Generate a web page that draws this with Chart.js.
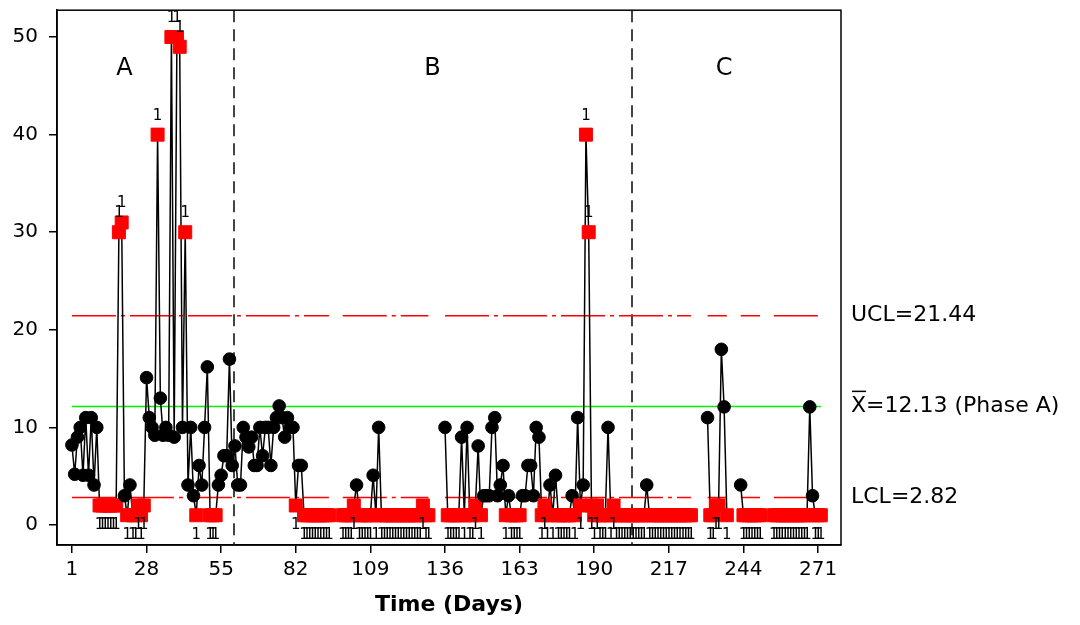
<!DOCTYPE html>
<html>
<head>
<meta charset="utf-8">
<script src="https://cdn.jsdelivr.net/npm/chart.js@4/dist/chart.umd.min.js"></script>
<style>
  html, body { margin: 0; padding: 0; background: #fff; }
</style>
</head>
<body>
<canvas id="chart" width="1080" height="625"></canvas>
<script>
// daily values, null = missing day
const values = [
  8.2, 5.2, 9, 10, 5.1, 11, 5.1, 11, 4.1, 10,
  2, 2, 2, 2, 2, 2, 2, 30, 31, 3,
  1, 4.1, 1, 1, 2, 1, 2, 15.1, 11, 10,
  9.2, 40, 13, 9.2, 10, 9.2, 50, 9, 50, 49,
  10, 30, 4.1, 10, 3, 1, 6.1, 4.1, 10, 16.2,
  1, 1, 1, 4.1, 5.1, 7.1, 7.1, 17, 6.1, 8.1,
  4.1, 4.1, 10, 9, 8, 9, 6.1, 6.1, 10, 7.1,
  10, 10, 6.1, 10, 11, 12.2, 11, 9, 11, 10,
  10, 2, 6.1, 6.1, 1, 1, 1, 1, 1, 1,
  1, 1, 1, 1, null, null, null, null, 1, 1,
  1, 1, 2, 4.1, 1, 1, 1, 1, 1, 5.1,
  1, 10, 1, 1, 1, 1, 1, 1, 1, 1,
  1, 1, 1, 1, 1, 1, 1, 2, 1, 1,
  null, null, null, null, null, 10, 1, 1, 1, 1,
  1, 9, 1, 10, 1, 1, 2, 8.1, 1, 3,
  3, 3, 10, 11, 3, 4.1, 6.1, 1, 3, 1,
  1, 1, 1, 3, 3, 6.1, 6.1, 3, 10, 9,
  1, 2, 1, 4.1, 1, 5.1, 1, 1, 1, 1,
  1, 3, 1, 11, 2, 4.1, 40, 30, 2, 1,
  2, 1, 1, 1, 10, 1, 2, 1, 1, 1,
  1, 1, 1, 1, 1, 1, 1, 1, 4.1, 1,
  1, 1, 1, 1, 1, 1, 1, 1, 1, 1,
  1, 1, 1, 1, 1, null, null, null, null, null,
  11, 1, 1, 2, 2, 18, 12.1, 1, null, null,
  null, null, 4.1, 1, 1, 1, 1, 1, 1, 1,
  null, null, null, null, 1, 1, 1, 1, 1, 1,
  1, 1, 1, 1, 1, 1, 1, 12.1, 3, 1,
  1, 1
];
const days = values.map((v, i) => i + 1);

const ucl = 21.44;
const mean = 12.13;
const lcl = 2.82;

const phaseNames = ["A", "B", "C"];
const phaseStarts = [1, 60, 204];

const xTicks = [1, 28, 55, 82, 109, 136, 163, 190, 217, 244, 271];
const yTicks = [0, 10, 20, 30, 40, 50];

const FONT = "DejaVu Sans";
const phaseLabelAt = [20, 131.5, 237]; // where the phase letters sit (days)
const phaseLabelY = 46.7;

const isOut = (v) => v != null && (v > ucl || v < lcl);
const limitLine = (level) =>
  values.map((v, i) => ({ x: days[i], y: v == null ? null : level }));

const overlay = {
  id: "overlay",
  beforeDatasetsDraw(chart) {
    const { ctx, chartArea: a, scales: { x } } = chart;
    ctx.save();
    ctx.strokeStyle = "#444";
    ctx.lineWidth = 2;
    ctx.setLineDash([12, 7]);
    phaseStarts.slice(1).forEach((d) => {
      const px = Math.round(x.getPixelForValue(d - 0.5));
      ctx.beginPath();
      ctx.moveTo(px, a.top);
      ctx.lineTo(px, a.bottom);
      ctx.stroke();
    });
    ctx.restore();
  },
  afterDatasetsDraw(chart) {
    const { ctx, chartArea: a, scales: { x, y } } = chart;
    ctx.save();
    ctx.fillStyle = "#000";

    // test 1 flags
    ctx.font = "15px " + FONT;
    ctx.textAlign = "center";
    ctx.textBaseline = "middle";
    chart.getDatasetMeta(0).data.forEach((pt, i) => {
      const v = values[i];
      if (!isOut(v)) return;
      ctx.fillText("1", pt.x, v > ucl ? pt.y - 19 : pt.y + 20);
    });

    // phase letters
    ctx.font = "24px " + FONT;
    phaseNames.forEach((name, i) => {
      ctx.fillText(name, x.getPixelForValue(phaseLabelAt[i]), y.getPixelForValue(phaseLabelY));
    });

    // limit labels on the right
    ctx.font = "22px " + FONT;
    ctx.textAlign = "left";
    const lx = a.right + 10;
    ctx.fillText("UCL=" + ucl.toFixed(2), lx, y.getPixelForValue(ucl));
    const my = y.getPixelForValue(mean);
    ctx.fillText("X=" + mean.toFixed(2) + " (Phase A)", lx, my);
    const xw = ctx.measureText("X").width;
    ctx.fillRect(lx + 1, my - 16, xw - 1, 1.5);
    ctx.fillText("LCL=" + lcl.toFixed(2), lx, y.getPixelForValue(lcl));

    // frame
    ctx.strokeStyle = "#000";
    ctx.lineWidth = 1.5;
    ctx.strokeRect(a.left, a.top, a.right - a.left, a.bottom - a.top);
    ctx.restore();
  },
};

new Chart(document.getElementById("chart"), {
  type: "line",
  data: {
    datasets: [
      {
        data: values.map((v, i) => ({ x: days[i], y: v })),
        borderColor: "#000",
        borderWidth: 1.5,
        spanGaps: false,
        tension: 0,
        pointStyle: (c) => (isOut(c.raw && c.raw.y) ? "rect" : "circle"),
        pointRadius: (c) => (isOut(c.raw && c.raw.y) ? 9.2 : 6.3),
        pointBackgroundColor: (c) => (isOut(c.raw && c.raw.y) ? "#ff0000" : "#000"),
        pointBorderColor: (c) => (isOut(c.raw && c.raw.y) ? "#ff0000" : "#000"),
        pointBorderWidth: 1,
      },
      {
        data: [{ x: days[0], y: mean }, { x: days[days.length - 1], y: mean }],
        borderColor: "#00ee00",
        borderWidth: 1.5,
        pointRadius: 0,
      },
      {
        data: limitLine(ucl),
        borderColor: "#ff0000",
        borderWidth: 1.5,
        borderDash: [44, 5, 4, 5],
        spanGaps: false,
        pointRadius: 0,
      },
      {
        data: limitLine(lcl),
        borderColor: "#ff0000",
        borderWidth: 1.5,
        borderDash: [44, 5, 4, 5],
        spanGaps: false,
        pointRadius: 0,
      },
    ],
  },
  options: {
    responsive: false,
    devicePixelRatio: 1,
    animation: false,
    layout: { padding: { top: 9, right: 239, left: 0, bottom: 0 } },
    plugins: {
      legend: { display: false },
      tooltip: { enabled: false },
    },
    scales: {
      x: {
        type: "linear",
        min: -4.4,
        max: 279.3,
        afterBuildTicks: (s) => {
          s.ticks = xTicks.map((v) => ({ value: v }));
        },
        afterFit: (s) => {
          s.height = 80;
          s.paddingLeft = 0;
          s.paddingRight = 0;
        },
        grid: { drawOnChartArea: false, drawTicks: true, tickLength: 8, color: "#000", lineWidth: 1.5 },
        border: { display: true, color: "#000", width: 1.5 },
        ticks: {
          color: "#000",
          font: { family: FONT, size: 20 },
          padding: 5,
          maxRotation: 0,
          autoSkip: false,
          callback: (v) => v,
        },
        title: {
          display: true,
          text: "Time (Days)",
          color: "#000",
          font: { family: FONT, size: 22, weight: "bold" },
          padding: { top: 0, bottom: 7 },
        },
      },
      y: {
        min: -2.05,
        max: 52.75,
        afterBuildTicks: (s) => {
          s.ticks = yTicks.map((v) => ({ value: v }));
        },
        afterFit: (s) => {
          s.width = 57;
          s.paddingTop = 0;
          s.paddingBottom = 0;
        },
        grid: { drawOnChartArea: false, drawTicks: true, tickLength: 8, color: "#000", lineWidth: 1.5 },
        border: { display: true, color: "#000", width: 1.5 },
        ticks: {
          color: "#000",
          font: { family: FONT, size: 20 },
          padding: 11,
          callback: (v) => v,
        },
      },
    },
  },
  plugins: [overlay],
});
</script>
</body>
</html>
